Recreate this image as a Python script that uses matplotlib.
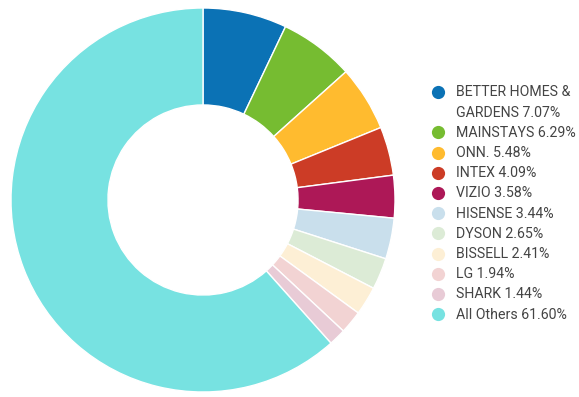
import matplotlib
matplotlib.use("Agg")
import matplotlib.pyplot as plt

labels = ["BETTER HOMES &\nGARDENS", "MAINSTAYS", "ONN.", "INTEX", "VIZIO", "HISENSE",
          "DYSON", "BISSELL", "LG", "SHARK", "All Others"]
values = [7.07, 6.29, 5.48, 4.09, 3.58, 3.44, 2.65, 2.41, 1.94, 1.44, 61.60]
colors = ["#0b72b5", "#76bc31", "#ffbb2f", "#cc3c26", "#ad1857", "#c9dfec",
          "#dcebd6", "#fdefd5", "#f2d3d3", "#e8cbd6", "#77e2e1"]

W, H = 579, 397
fig = plt.figure(figsize=(W / 100, H / 100), dpi=100)
cx, cy, r = 203, 200, 192
ax = fig.add_axes([(cx - r) / W, (H - cy - r) / H, 2 * r / W, 2 * r / H])
ax.pie(values, colors=colors, startangle=90, counterclock=False, radius=1,
       wedgeprops=dict(width=0.505, edgecolor="white", linewidth=1))
ax.set_xlim(-1, 1)
ax.set_ylim(-1, 1)
ax.set_aspect("equal")
ax.axis("off")

# legend
mx, tx = 438, 456
y = 92
step = 20.2
for lab, v, c in zip(labels, values, colors):
    text = f"{lab} {v:.2f}%"
    fig.add_artist(plt.Line2D([mx / W], [1 - y / H], marker="o", markersize=9.5,
                              color=c, markeredgewidth=0, transform=fig.transFigure))
    for line in text.split("\n"):
        fig.text(tx / W, 1 - (y + 0.5) / H, line, fontsize=10.2, family="Roboto",
                 color="#444444", va="center", ha="left")
        y += step

fig.savefig("out.png", dpi=100)
